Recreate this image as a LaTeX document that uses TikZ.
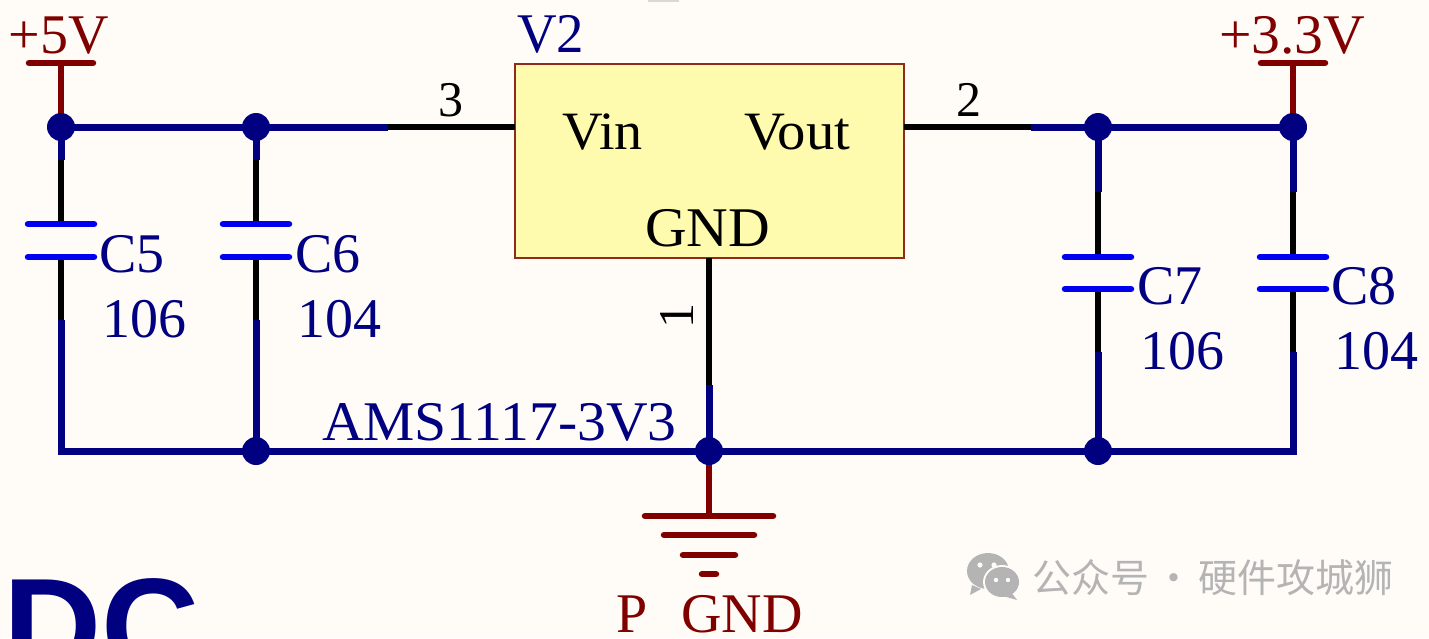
\documentclass[tikz,border=0pt]{standalone}
\usepackage{fontspec}
\setmainfont{Liberation Serif}
\newfontfamily\dcfont{Liberation Sans}
\newfontfamily\cjk{Noto Sans CJK SC}
\definecolor{bgc}{HTML}{FFFCF8}
\definecolor{wirec}{HTML}{000080}
\definecolor{platec}{HTML}{0000F0}
\definecolor{powerc}{HTML}{800000}
\definecolor{boxfill}{HTML}{FFFBAE}
\definecolor{boxline}{HTML}{8F2A1C}
\definecolor{markc}{HTML}{B4B4B4}
\tikzset{
  wire/.style={draw=wirec,line width=7pt,line cap=butt},
  pinline/.style={draw=black,line width=6pt},
  plate/.style={draw=platec,line width=6.5pt,line cap=round},
  powerline/.style={draw=powerc,line width=6.5pt,line cap=round},
  powerstem/.style={draw=powerc,line width=6pt},
  junction/.style={circle,fill=wirec,inner sep=0pt,minimum size=28pt},
  lbl/.style={inner sep=0pt,outer sep=0pt,anchor=base west},
  blue lbl/.style={lbl,text=wirec,font=\fontsize{56}{56}\selectfont},
  red lbl/.style={lbl,text=powerc,font=\fontsize{56}{56}\selectfont},
  black lbl/.style={lbl,text=black,font=\fontsize{54}{54}\selectfont},
  wmark/.style={lbl,text=markc,font=\cjk\fontsize{39}{39}\selectfont},
}
\begin{document}
\begin{tikzpicture}[x=1pt,y=-1pt]
\clip (0,0) rectangle (1429,638);
\useasboundingbox (0,0) rectangle (1429,638);
\fill[bgc] (0,0) rectangle (1429,638);
\fill[markc!50!bgc] (648,0) rectangle (679,1.5);

% big clipped title
\node[lbl,text=wirec,font=\dcfont\bfseries\fontsize{136}{136}\selectfont] (title) at (3,673) {DC};

% regulator
\node[draw=boxline,fill=boxfill,line width=2pt,minimum width=389pt,minimum height=194pt,inner sep=0pt,outer sep=0pt] (u) at (709.5,161) {};
\coordinate (ypin) at (0,127);
\coordinate (xgnd) at (709,0);
\coordinate (uin) at (u.west |- ypin);
\coordinate (uout) at (u.east |- ypin);
\coordinate (ugnd) at (xgnd |- u.south);

% junctions
\coordinate (j1) at (61,127);
\coordinate (j2) at (256,127);
\coordinate (j3) at (1098,127);
\coordinate (j4) at (1293,127);
\coordinate (j5) at (256,451);
\coordinate (j6) at (709,451);
\coordinate (j7) at (1098,451);
\coordinate (cnr1) at (61,451);
\coordinate (cnr2) at (1293,451);

% wires
\draw[wire] (j1) -- (j2) -- (388,127);
\draw[wire] (1031,127) -- (j3) -- (j4);
\draw[wire] (j1) -- (61,160);
\draw[wire] (j2) -- (256,160);
\draw[wire] (j3) -- (1098,192);
\draw[wire] (j4) -- (1293,192);
\draw[wire,line join=miter] (61,320) -- (cnr1) -- (j5) -- (j6) -- (j7) -- (cnr2) -- (1293,352);
\draw[wire] (256,320) -- (j5);
\draw[wire] (1098,352) -- (j7);
\draw[wire] (709,385) -- (j6);

% pins
\draw[pinline] (388,127) -- (uin);
\draw[pinline] (uout) -- (1031,127);
\draw[pinline] (ugnd) -- (709,385);
\foreach \x/\a/\b in {61/224/257,256/224/257}{
  \draw[pinline] (\x,160) -- (\x,\a);
  \draw[pinline] (\x,\b) -- (\x,320);
  \draw[plate] (\x-33,\a) -- (\x+33,\a);
  \draw[plate] (\x-33,\b) -- (\x+33,\b);
}
\foreach \x/\a/\b in {1098/257/289,1293/257/289}{
  \draw[pinline] (\x,192) -- (\x,\a);
  \draw[pinline] (\x,\b) -- (\x,352);
  \draw[plate] (\x-33,\a) -- (\x+33,\a);
  \draw[plate] (\x-33,\b) -- (\x+33,\b);
}

% power symbols
\coordinate (p5) at (61,63);
\coordinate (p33) at (1293,63);
\draw[powerstem] (p5) -- (j1);
\draw[powerstem] (p33) -- (j4);
\draw[powerline] (29,63) -- (93,63);
\draw[powerline] (1261,63) -- (1325,63);

% ground
\coordinate (g) at (709,516);
\draw[powerstem] (j6) -- (g);
\draw[powerline] (645,516) -- (773,516);
\draw[powerline] (664,535) -- (754,535);
\draw[powerline] (683,555) -- (735,555);
\draw[powerline] (702,574) -- (716,574);

% junction dots
\foreach \j in {j1,j2,j3,j4,j5,j6,j7}{\node[junction] at (\j) {};}

% labels
\node[red lbl] (l5v) at (9,53) {+5V};
\node[red lbl] (l33) at (1219,53) {\scalebox{1.03}[1]{+3.3V}};
\node[blue lbl] (lv2) at (517,52) {\scalebox{.98}[1]{V2}};
\node[black lbl] (lvin) at (562,149) {\scalebox{1.04}[1]{Vin}};
\node[black lbl] (lvout) at (744,149) {\scalebox{1.05}[1]{Vout}};
\node[black lbl,font=\fontsize{56}{56}\selectfont] (lgnd) at (645,246) {\scalebox{1.03}[1]{GND}};
\node[black lbl] (lp3) at (438,116) {\fontsize{50}{50}\selectfont 3};
\node[black lbl] (lp2) at (956,116) {\fontsize{50}{50}\selectfont 2};
\node[inner sep=0pt,rotate=90,font=\fontsize{50}{50}\selectfont] (lp1) at (677,316) {1};
\node[blue lbl] (c5) at (99,272) {C5};
\node[blue lbl] (v5) at (102,337) {106};
\node[blue lbl] (c6) at (295,272) {C6};
\node[blue lbl] (v6) at (297,337) {104};
\node[blue lbl] (c7) at (1137,304) {C7};
\node[blue lbl] (v7) at (1140,369) {106};
\node[blue lbl] (c8) at (1331,304) {C8};
\node[blue lbl] (v8) at (1334,369) {104};
\node[blue lbl] (part) at (322,440) {\scalebox{1.03}[1]{AMS1117-3V3}};
\node[red lbl] (pgnd) at (616,632) {P \hspace{20pt}GND};

% watermark
\fill[markc] (988,571) ellipse (21pt and 18pt);
\fill[markc] (972,585) -- (970,595) -- (981,589) -- cycle;
\fill[bgc] (1002,582) ellipse (19pt and 17pt);
\fill[markc] (1002,582) ellipse (17pt and 15pt);
\fill[markc] (1011,592) -- (1017,600) -- (1003,596) -- cycle;
\fill[bgc] (980,565) circle (2.6pt) (994,565) circle (2.6pt) (996,580) circle (2.2pt) (1008,580) circle (2.2pt);
\node[wmark] (wm) at (1032,592) {公众号\hspace{.14em}·\hspace{.14em}硬件攻城狮};
\end{tikzpicture}
\end{document}
